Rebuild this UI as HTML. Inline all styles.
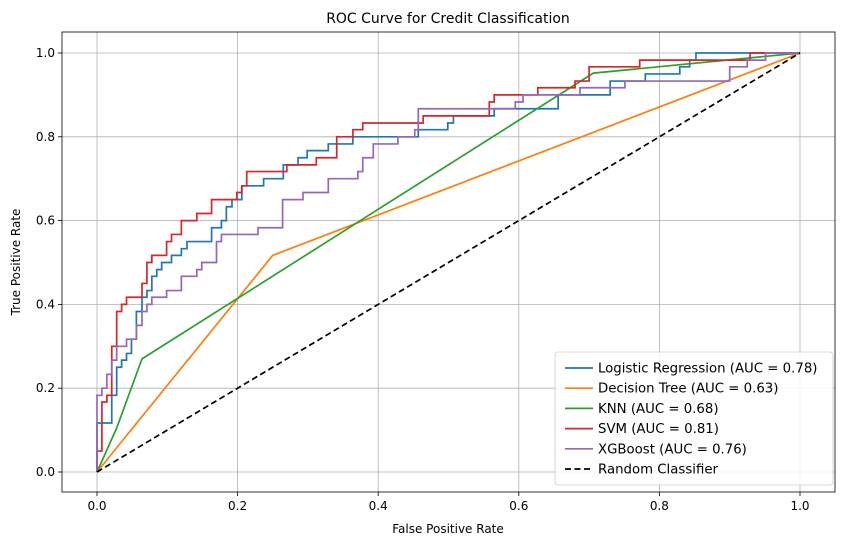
<!DOCTYPE html>
<html><head><meta charset="utf-8"><style>
body{margin:0;background:#fff;font-family:"Liberation Sans","DejaVu Sans",sans-serif;}
svg text{font-family:"DejaVu Sans","Liberation Sans",sans-serif;}
</style></head><body>
<svg id="chart" width="846" height="546" xmlns="http://www.w3.org/2000/svg">
<text x="448" y="23" text-anchor="middle" font-size="14" fill="#000">ROC Curve for Credit Classification</text>
<g id="grid"></g>
<g id="series"></g>
<rect x="62" y="32" width="773" height="460" fill="none" stroke="#000" stroke-width="0.8"/>
<g id="ticks"></g>
<text x="448" y="533" text-anchor="middle" font-size="12">False Positive Rate</text>
<text transform="translate(20,262) rotate(-90)" text-anchor="middle" font-size="12">True Positive Rate</text>
<g id="legend"></g>
</svg>
<script>
const xTicks=[0,0.2,0.4,0.6,0.8,1.0];
const yTicks=[0,0.2,0.4,0.6,0.8,1.0];
const tickLabels=["0.0","0.2","0.4","0.6","0.8","1.0"];
const lrFpr=[0,0.021,0.028,0.035,0.042,0.049,0.056,0.064,0.071,0.078,0.085,0.092,0.106,0.120,0.128,0.163,0.177,0.184,0.192,0.206,0.237,0.265,0.286,0.299,0.329,0.364,0.457,0.499,0.507,0.565,0.656,0.730,0.780,0.829,0.843,0.852];
const lrTpr=[0.117,0.183,0.25,0.267,0.283,0.317,0.383,0.417,0.433,0.467,0.483,0.5,0.517,0.533,0.55,0.583,0.6,0.633,0.65,0.683,0.7,0.733,0.75,0.767,0.783,0.8,0.817,0.833,0.85,0.867,0.9,0.933,0.95,0.967,0.983,1];
const dtFpr=[0,0.25,1];
const dtTpr=[0,0.517,1];
const knnFpr=[0,0.028,0.064,0.706,1];
const knnTpr=[0,0.105,0.27,0.952,1];
const svmFpr=[0,0.007,0.014,0.021,0.028,0.035,0.042,0.064,0.071,0.078,0.099,0.106,0.120,0.142,0.163,0.199,0.206,0.213,0.270,0.312,0.341,0.364,0.378,0.464,0.558,0.565,0.627,0.680,0.700,0.772,0.929];
const svmTpr=[0.05,0.167,0.183,0.3,0.383,0.4,0.417,0.45,0.5,0.517,0.55,0.567,0.6,0.617,0.65,0.667,0.683,0.717,0.733,0.75,0.8,0.817,0.833,0.85,0.883,0.9,0.917,0.933,0.967,0.983,1];
const xgbFpr=[0,0.007,0.014,0.021,0.028,0.042,0.056,0.064,0.071,0.078,0.099,0.120,0.142,0.149,0.170,0.177,0.229,0.264,0.293,0.329,0.371,0.378,0.393,0.428,0.452,0.457,0.595,0.606,0.687,0.751,0.900,0.925,0.951];
const xgbTpr=[0.183,0.2,0.233,0.267,0.3,0.317,0.35,0.383,0.4,0.417,0.433,0.467,0.483,0.5,0.55,0.567,0.583,0.65,0.667,0.7,0.717,0.75,0.783,0.8,0.817,0.867,0.883,0.9,0.917,0.933,0.967,0.983,1];
const legendLabels=["Logistic Regression (AUC = 0.78)","Decision Tree (AUC = 0.63)","KNN (AUC = 0.68)","SVM (AUC = 0.81)","XGBoost (AUC = 0.76)","Random Classifier"];

const NS="http://www.w3.org/2000/svg";
const X=v=>97+v*703, Y=v=>472-v*419;
function mk(tag,parent,attrs){const e=document.createElementNS(NS,tag);for(const k in attrs)e.setAttribute(k,attrs[k]);parent.appendChild(e);return e;}
const grid=document.getElementById('grid'),ticks=document.getElementById('ticks'),series=document.getElementById('series'),legend=document.getElementById('legend');
xTicks.forEach((t,i)=>{
  const g=mk('line',grid,{x1:X(t),x2:X(t),y1:32,y2:492,stroke:'#b0b0b0','stroke-width':0.8});
  
  
  const tk=mk('line',ticks,{x1:X(t),x2:X(t),y1:492,y2:496,stroke:'#000','stroke-width':0.8});
  
  
  const tl=mk('text',ticks,{x:X(t),y:510,'text-anchor':'middle','font-size':12});
  tl.textContent=tickLabels[i];
  
  
});
yTicks.forEach((t,i)=>{
  const g=mk('line',grid,{x1:62,x2:835,y1:Y(t),y2:Y(t),stroke:'#b0b0b0','stroke-width':0.8});
  
  
  const tk=mk('line',ticks,{x1:58,x2:62,y1:Y(t),y2:Y(t),stroke:'#000','stroke-width':0.8});
  
  
  const tl=mk('text',ticks,{x:55,y:Y(t)+4,'text-anchor':'end','font-size':12});
  tl.textContent=tickLabels[i];
  
  
});
function stepPath(f,t){let d=`M${X(0)},${Y(0)}`;let prev=0;for(let i=0;i<f.length;i++){d+=` L${X(f[i])},${Y(prev)} L${X(f[i])},${Y(t[i])}`;prev=t[i];}d+=` L${X(1)},${Y(prev)} L${X(1)},${Y(1)}`;return d;}
function linePath(f,t){return f.map((v,i)=>(i?'L':'M')+X(v)+','+Y(t[i])).join(' ');}
const defs=[
 {d:stepPath(lrFpr,lrTpr),c:'#1f77b4',n:'logistic-regression-curve'},
 {d:linePath(dtFpr,dtTpr),c:'#ff7f0e',n:'decision-tree-curve'},
 {d:linePath(knnFpr,knnTpr),c:'#2ca02c',n:'knn-curve'},
 {d:stepPath(svmFpr,svmTpr),c:'#d62728',n:'svm-curve'},
 {d:stepPath(xgbFpr,xgbTpr),c:'#9467bd',n:'xgboost-curve'},
];
defs.forEach(s=>{
  const p=mk('path',series,{d:s.d,fill:'none',stroke:s.c,'stroke-width':1.7,'stroke-linejoin':'miter'});
  
  
});
const diag=mk('path',series,{d:linePath([0,1],[0,1]),fill:'none',stroke:'#000','stroke-width':1.7,'stroke-dasharray':'6,3.5'});


const box=mk('rect',legend,{x:555,y:352,width:278,height:133,rx:3,fill:'#fff','fill-opacity':0.85,stroke:'#ccc','stroke-width':0.8});


const cols=['#1f77b4','#ff7f0e','#2ca02c','#d62728','#9467bd','#000'];
legendLabels.forEach((l,i)=>{
  const y=368+i*20.2;
  const ln=mk('line',legend,{x1:565,x2:593,y1:y,y2:y,stroke:cols[i],'stroke-width':1.7});
  if(i===5) ln.setAttribute('stroke-dasharray','6,3.5');
  
  
  const t=mk('text',legend,{x:598,y:y+4.5,'font-size':13.3});
  t.textContent=l;
  
  
});
</script>
</body></html>
